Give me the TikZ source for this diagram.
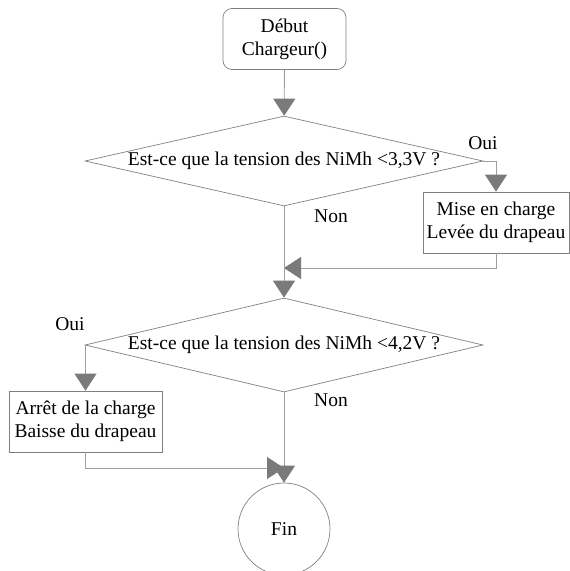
\documentclass[tikz,border=0pt]{standalone}
\usepackage{fontspec}
\setmainfont{Liberation Serif}
\usepackage{xcolor}
\usepackage{tikz}
\usetikzlibrary{arrows.meta,shapes.geometric}

\begin{document}
\begin{tikzpicture}[x=1pt,y=-1pt,
  font=\fontsize{19.5}{23}\selectfont,
  every node/.style={align=center},
  fleche/.style={draw=black!38,line width=0.9pt,-{Triangle[length=17pt,width=22pt,color=black!52]}},
  boite/.style={draw=black!50,line width=0.7pt,rectangle,minimum width=#1,minimum height=61pt,inner sep=0pt},
  test/.style={draw=black!50,line width=0.7pt,diamond,aspect=4.4,inner sep=0pt,minimum width=398pt,minimum height=#1}]
  \useasboundingbox (0,0) rectangle (570,571);

  \node[boite=123pt,rounded corners=9pt] (debut) at (284.5,39) {Début\\Chargeur()};
  \node[test=90pt] (test1) at (284,161) {Est-ce que la tension des NiMh <3,3V ?};
  \node[boite=146pt] (charge) at (496,222.5) {Mise en charge\\Levée du drapeau};
  \coordinate (j1) at (284,268);
  \node[test=94pt] (test2) at (284,345) {Est-ce que la tension des NiMh <4,2V ?};
  \node[boite=153pt] (arret) at (85.5,421.5) {Arrêt de la charge\\Baisse du drapeau};
  \coordinate (j2) at (284,468);
  \node[circle,draw=black!50,line width=0.7pt,minimum size=92pt,inner sep=0pt] (fin) at (284,529) {Fin};

  \node (oui1) at (483,143) {Oui};
  \node (non1) at (331,216) {Non};
  \node (oui2) at (70,324) {Oui};
  \node (non2) at (331,400) {Non};

  \draw[fleche] (debut) -- (test1);
  \draw[fleche] (test1.east) -| (charge.north);
  \draw[fleche] (charge.south) |- (j1);
  \draw[fleche] (test1.south) -- (test2.north);
  \draw[fleche] (test2.west) -| (arret.north);
  \draw[fleche] (arret.south) |- (j2);
  \draw[fleche] (test2.south) -- (fin.north);
\end{tikzpicture}
\end{document}
